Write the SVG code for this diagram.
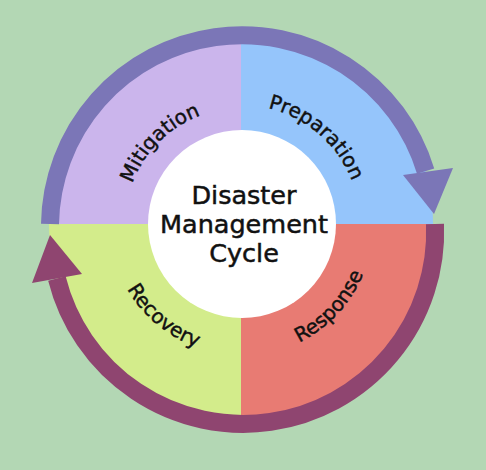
<svg xmlns="http://www.w3.org/2000/svg" width="486" height="470" viewBox="0 0 486 470">
<style>
.lbl{font-family:"DejaVu Sans","Liberation Sans",sans-serif;font-size:20px;fill:#111;stroke:#111;stroke-width:0.45;}
.ctr{font-family:"DejaVu Sans","Liberation Sans",sans-serif;font-size:25.5px;fill:#111;stroke:#111;stroke-width:0.5;text-anchor:middle;}
</style>
<defs>
<path id="pMit" d="M 125 224 A 116 116 0 0 1 241 108"/>
<path id="pPrep" d="M 224.4 106.2 A 119 119 0 0 1 360 224"/>
<path id="pResp" d="M 250.3 355.7 A 132 132 0 0 0 373 224"/>
<path id="pRec" d="M 110 224 A 131 131 0 0 0 263.7 353"/>
</defs>
<rect width="486" height="470" fill="#b3d7b4"/>
<g id="mitigation">
<path d="M 241 224 L 49 224 A 192 192 0 0 1 241 32 Z" fill="#cbb5ec"/>
</g>
<g id="preparation">
<path d="M 241 224 L 241 32 A 192 192 0 0 1 433 224 Z" fill="#95c5fb"/>
</g>
<g id="response">
<path d="M 241 224 L 433 224 A 192 192 0 0 1 241 416 Z" fill="#e87b73"/>
</g>
<g id="recovery">
<path d="M 241 224 L 241 416 A 192 192 0 0 1 49 224 Z" fill="#d3ec8b"/>
</g>
<g id="connectors">
<path d="M 50 224 A 192 192 0 0 1 425.6 171.1" fill="none" stroke="#7b76b7" stroke-width="18"/>
<polygon points="403,175 453,168 434,214" fill="#7b76b7"/>
<path d="M 435 224 A 192 192 0 0 1 56.9 278.5" fill="none" stroke="#8f4570" stroke-width="18"/>
<polygon points="50,235 32,283 82,274" fill="#8f4570"/>
</g>
<g id="center">
<circle cx="242" cy="224" r="94" fill="#ffffff"/>
<text class="ctr" x="244" y="204">Disaster</text>
<text class="ctr" x="244" y="233">Management</text>
<text class="ctr" x="244" y="262">Cycle</text>
</g>
<g id="labels">
<text class="lbl"><textPath href="#pMit" startOffset="50%" text-anchor="middle">Mitigation</textPath></text>
<text class="lbl"><textPath href="#pPrep" startOffset="50%" text-anchor="middle">Preparation</textPath></text>
<text class="lbl"><textPath href="#pResp" startOffset="50%" text-anchor="middle">Response</textPath></text>
<text class="lbl"><textPath href="#pRec" startOffset="50%" text-anchor="middle">Recovery</textPath></text>
</g>
</svg>
